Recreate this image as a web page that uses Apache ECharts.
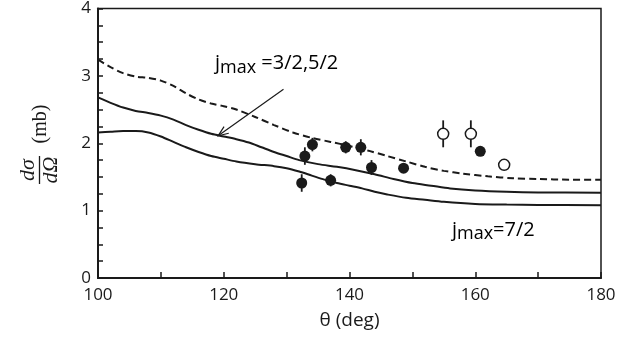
<!DOCTYPE html>
<html><head><meta charset="utf-8">
<script src="https://cdn.jsdelivr.net/npm/echarts@6/dist/echarts.min.js"></script>
<style>html,body{margin:0;padding:0;background:#fff}#c{width:638px;height:341px}</style>
</head><body><div id="c"></div>
<script>
// ---- data ----
const dashTheta = [100, 102, 104, 106, 108, 110, 112, 114, 116, 118, 120, 122, 125, 128, 131, 134, 137, 140, 143, 146, 149, 152, 155, 158, 162, 166, 170, 175, 180];
const dashSigma = [3.24, 3.13, 3.04, 2.99, 2.97, 2.93, 2.85, 2.74, 2.65, 2.59, 2.55, 2.50, 2.39, 2.27, 2.16, 2.08, 2.02, 1.96, 1.89, 1.81, 1.73, 1.65, 1.59, 1.55, 1.51, 1.48, 1.47, 1.46, 1.46];
const midTheta = [100, 102, 104, 106, 108, 110, 112, 114, 116, 118, 120, 122, 124, 126, 128, 130, 132, 135, 138, 141, 144, 147, 150, 153, 156, 160, 165, 170, 180];
const midSigma = [2.68, 2.60, 2.53, 2.48, 2.45, 2.41, 2.35, 2.27, 2.20, 2.14, 2.10, 2.06, 2.01, 1.94, 1.87, 1.81, 1.75, 1.69, 1.65, 1.60, 1.54, 1.47, 1.41, 1.37, 1.33, 1.30, 1.28, 1.27, 1.265];
const lowTheta = [100, 102, 104, 106, 108, 110, 112, 114, 116, 118, 120, 122, 125, 128, 130, 132, 134, 136, 138, 140, 142, 144, 146, 149, 152, 155, 160, 165, 170, 180];
const lowSigma = [2.16, 2.17, 2.18, 2.18, 2.16, 2.10, 2.02, 1.94, 1.87, 1.81, 1.77, 1.73, 1.69, 1.66, 1.63, 1.58, 1.52, 1.46, 1.41, 1.37, 1.33, 1.28, 1.24, 1.19, 1.16, 1.13, 1.10, 1.09, 1.085, 1.08];
const filledTheta = [132.4, 132.9, 134.1, 137.0, 139.4, 141.8, 143.5, 148.6, 160.8];
const filledSigma = [1.41, 1.81, 1.98, 1.45, 1.94, 1.94, 1.64, 1.63, 1.88];
const filledErr   = [0.13, 0.13, 0.10, 0.09, 0.09, 0.12, 0.11, 0.05, 0.04];
const openTheta = [154.9, 159.3, 164.6];
const openSigma = [2.14, 2.14, 1.68];
const openErr   = [0.20, 0.20, 0.05];
const xTickLabels = [100, 120, 140, 160, 180];
const yTickLabels = [0, 1, 2, 3, 4];
const annoA = { sub: 'max', main: ' =3/2,5/2' };
const annoB = { sub: 'max', main: '=7/2' };
const arrowFrom = [129.5, 2.80];
const arrowTo = [119.1, 2.11];
const annoAPos = [118.6, 3.33];
const annoBPos = [156.3, 0.86];

// ---- chart ----
const ink = '#1a1a1a';
const sans = 'Open Sans';
const serif = 'Liberation Serif';
const pair = (xs, ys) => xs.map((x, i) => [x, ys[i]]);
const triple = (xs, ys, es) => xs.map((x, i) => [x, ys[i], es[i]]);
const chart = echarts.init(document.getElementById('c'));

const errRender = (params, api) => {
  const x = api.value(0), y = api.value(1), e = api.value(2);
  const a = api.coord([x, y + e]), b = api.coord([x, y - e]);
  return { type: 'line', shape: { x1: a[0], y1: a[1], x2: b[0], y2: b[1] },
           style: { stroke: ink, lineWidth: 1.8 } };
};

chart.setOption({
  animation: false,
  grid: { left: 98, right: 37, top: 7, bottom: 63, show: true, borderColor: ink, borderWidth: 1.5 },
  xAxis: {
    type: 'value', min: 100, max: 180, interval: 20,
    axisLine: { lineStyle: { color: ink, width: 2 } },
    axisTick: { inside: true, length: 6, lineStyle: { color: ink, width: 1.5 } },
    minorTick: { show: true, splitNumber: 2, length: 6, lineStyle: { color: ink, width: 1.5 } },
    splitLine: { show: false },
    axisLabel: { color: ink, fontFamily: sans, fontSize: 17, margin: 9,
      formatter: v => (xTickLabels.includes(v) ? String(v) : '') },
    name: 'θ (deg)', nameLocation: 'middle', nameGap: 33,
    nameTextStyle: { color: ink, fontFamily: sans, fontSize: 19 }
  },
  yAxis: {
    type: 'value', min: 0, max: 4, interval: 1,
    axisLine: { show: true, lineStyle: { color: ink, width: 2 } },
    axisTick: { show: true, inside: true, length: 5, lineStyle: { color: ink, width: 1.5 } },
    minorTick: { show: true, splitNumber: 4, length: 5, lineStyle: { color: ink, width: 1.5 } },
    splitLine: { show: false },
    axisLabel: { color: ink, fontFamily: sans, fontSize: 17, margin: 7,
      formatter: v => (yTickLabels.includes(v) ? String(v) : '') }
  },
  series: [
    { type: 'line', data: pair(dashTheta, dashSigma), smooth: 0.3, symbol: 'none',
      lineStyle: { color: ink, width: 2, type: [7, 4] } },
    { type: 'line', data: pair(midTheta, midSigma), smooth: 0.3, symbol: 'none',
      lineStyle: { color: ink, width: 2 } },
    { type: 'line', data: pair(lowTheta, lowSigma), smooth: 0.3, symbol: 'none',
      lineStyle: { color: ink, width: 2 } },
    { type: 'custom', data: triple(filledTheta, filledSigma, filledErr), renderItem: errRender },
    { type: 'custom', data: triple(openTheta, openSigma, openErr), renderItem: errRender },
    { type: 'scatter', data: pair(filledTheta, filledSigma), symbolSize: 11,
      itemStyle: { color: ink, opacity: 1 } },
    { type: 'scatter', data: pair(openTheta, openSigma), symbolSize: 11,
      itemStyle: { color: '#fff', borderColor: ink, borderWidth: 1.5, opacity: 1 } }
  ]
});

// ---- annotations ----
const px = p => chart.convertToPixel({ gridIndex: 0 }, p);
const p0 = px(arrowFrom), p1 = px(arrowTo);
const ang = Math.atan2(p0[1] - p1[1], p0[0] - p1[0]);
const hl = 11, ha = 0.38;
const h1 = [p1[0] + hl * Math.cos(ang + ha), p1[1] + hl * Math.sin(ang + ha)];
const h2 = [p1[0] + hl * Math.cos(ang - ha), p1[1] + hl * Math.sin(ang - ha)];
const rich = {
  j: { fontFamily: sans, fontSize: 20, color: ink, verticalAlign: 'bottom', padding: [0, 0, 3, 0] },
  s: { fontFamily: sans, fontSize: 18, color: ink, verticalAlign: 'bottom' },
  m: { fontFamily: sans, fontSize: 20, color: ink, verticalAlign: 'bottom', padding: [0, 0, 3, 0] }
};
const a = px(annoAPos), b = px(annoBPos);
const yt = (text, x, y, size, style) => ({
  type: 'text', x, y, rotation: Math.PI / 2,
  style: { text, fontFamily: serif, fontSize: size, fontStyle: style, fill: ink, align: 'center', verticalAlign: 'middle' }
});
chart.setOption({
  graphic: [
    { type: 'line', shape: { x1: p0[0], y1: p0[1], x2: p1[0], y2: p1[1] }, style: { stroke: ink, lineWidth: 1.2 } },
    { type: 'polyline', shape: { points: [h1, p1, h2] }, style: { stroke: ink, lineWidth: 1.2, fill: null } },
    { type: 'text', x: a[0], y: a[1], style: { text: '{j|j}{s|' + annoA.sub + '}{m|' + annoA.main + '}', rich, align: 'left', verticalAlign: 'top' } },
    { type: 'text', x: b[0], y: b[1], style: { text: '{j|j}{s|' + annoB.sub + '}{m|' + annoB.main + '}', rich, align: 'left', verticalAlign: 'top' } },
    yt('dσ', 28, 170, 22, 'italic'),
    { type: 'line', shape: { x1: 39.5, y1: 156, x2: 39.5, y2: 184 }, style: { stroke: ink, lineWidth: 1.3 } },
    yt('dΩ', 51, 170, 22, 'italic'),
    yt('(mb)', 41, 124, 20, 'normal')
  ]
});
</script></body></html>
